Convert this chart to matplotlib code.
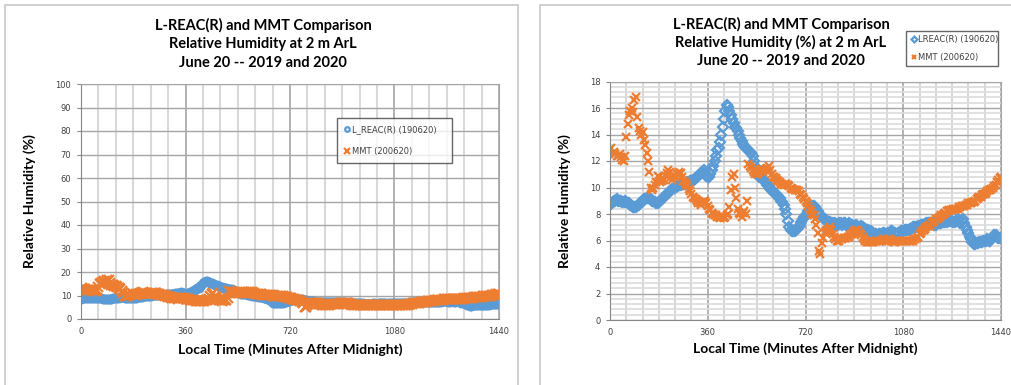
import numpy as np
import matplotlib.pyplot as plt
from matplotlib.patches import Rectangle
from matplotlib.ticker import MultipleLocator

# relative humidity at 2 m, sampled every 5 minutes after midnight
minutes = np.arange(0, 1441, 5)

lreac_rh = [
    8.7, 8.8, 8.9, 9.0, 9.0, 9.1, 9.0, 9.0, 9.0, 8.9, 8.9, 9.0, 8.9, 8.8, 8.8, 8.7, 8.6, 8.5, 8.5, 8.5,
    8.6, 8.7, 8.8, 8.9, 9.0, 9.1, 9.1, 9.2, 9.2, 9.2, 9.1, 9.0, 9.0, 8.9, 8.8, 8.8, 8.9, 9.0, 9.1, 9.2,
    9.3, 9.4, 9.5, 9.6, 9.7, 9.8, 9.9, 10.0, 10.0, 10.1, 10.1, 10.2, 10.2, 10.3, 10.3, 10.3, 10.3, 10.4, 10.4, 10.5,
    10.5, 10.6, 10.6, 10.7, 10.8, 10.9, 11.0, 11.1, 11.2, 11.3, 11.1, 10.9, 10.8, 10.8, 11.0, 11.3, 11.6, 12.0, 12.4, 12.8,
    13.0, 13.4, 14.0, 14.6, 15.2, 15.8, 16.2, 16.1, 15.8, 15.5, 15.2, 14.9, 14.6, 14.5, 14.3, 14.0, 13.7, 13.5, 13.3, 13.1,
    13.0, 12.9, 12.8, 12.7, 12.6, 12.4, 12.0, 11.6, 11.3, 11.0, 10.8, 10.8, 10.7, 10.6, 10.5, 10.4, 10.2, 10.1, 9.9, 9.8,
    9.7, 9.6, 9.5, 9.4, 9.3, 9.2, 9.0, 8.9, 8.7, 8.4, 8.0, 7.5, 7.0, 6.8, 6.7, 6.7, 6.7, 6.8, 6.9, 7.0,
    7.2, 7.4, 7.6, 7.8, 7.9, 8.0, 8.2, 8.4, 8.5, 8.6, 8.6, 8.5, 8.4, 8.2, 8.0, 7.9, 7.8, 7.7, 7.6, 7.5,
    7.5, 7.4, 7.4, 7.3, 7.3, 7.2, 7.3, 7.2, 7.2, 7.3, 7.3, 7.2, 7.3, 7.3, 7.2, 7.2, 7.3, 7.2, 7.2, 7.1,
    7.1, 7.2, 7.1, 7.0, 7.0, 7.1, 7.0, 6.9, 6.9, 6.8, 6.8, 6.7, 6.7, 6.6, 6.6, 6.5, 6.5, 6.4, 6.5, 6.5,
    6.5, 6.6, 6.6, 6.5, 6.5, 6.6, 6.6, 6.7, 6.7, 6.6, 6.6, 6.5, 6.6, 6.6, 6.7, 6.7, 6.7, 6.8, 6.8, 6.8,
    6.8, 6.9, 6.9, 7.0, 7.0, 7.0, 7.0, 7.1, 7.1, 7.2, 7.2, 7.2, 7.2, 7.3, 7.3, 7.3, 7.3, 7.3, 7.3, 7.2,
    7.2, 7.3, 7.3, 7.3, 7.3, 7.4, 7.4, 7.4, 7.4, 7.5, 7.5, 7.5, 7.5, 7.4, 7.4, 7.5, 7.6, 7.4, 7.3, 7.5,
    7.6, 7.3, 7.0, 6.8, 6.6, 6.3, 6.1, 5.9, 5.7, 5.7, 5.8, 5.8, 5.9, 5.9, 5.9, 6.0, 6.0, 6.0, 6.1, 6.0,
    6.0, 6.1, 6.3, 6.4, 6.4, 6.3, 6.2, 6.2, 6.2,
]

mmt_rh = [
    12.9, 13.0, 12.6, 12.7, 12.5, 12.4, 12.4, 12.5, 12.3, 12.1, 12.0, 12.4, 13.8, 14.8, 15.5, 15.8, 16.0, 15.7, 16.6, 16.8,
    15.3, 14.5, 14.3, 14.0, 14.2, 13.6, 13.2, 12.6, 12.0, 11.2, 10.0, 9.8, 10.0, 10.2, 10.4, 10.9, 10.8, 10.4, 10.5, 10.7,
    10.6, 10.9, 11.1, 11.3, 11.2, 10.8, 10.6, 10.8, 10.9, 11.0, 11.0, 11.2, 11.1, 10.8, 10.5, 10.4, 10.3, 10.1, 9.9, 9.7,
    9.5, 9.3, 9.2, 9.1, 9.0, 8.8, 8.8, 8.7, 8.9, 9.0, 9.0, 8.8, 8.6, 8.4, 8.3, 8.1, 8.0, 7.9, 7.9, 7.8,
    7.8, 7.7, 7.8, 7.8, 7.7, 7.8, 7.9, 8.0, 8.5, 9.8, 10.8, 11.0, 10.0, 9.2, 8.4, 8.1, 8.0, 7.8, 8.1, 8.2,
    8.0, 9.0, 11.8, 11.6, 11.5, 11.3, 11.2, 11.0, 11.0, 11.1, 11.2, 11.3, 11.4, 11.2, 11.3, 11.4, 11.5, 11.6, 11.3, 11.0,
    10.8, 10.8, 10.7, 10.6, 10.5, 10.4, 10.3, 10.3, 10.2, 10.3, 10.3, 10.2, 10.1, 10.0, 9.9, 9.9, 9.8, 9.8, 9.8, 9.7,
    9.5, 9.4, 9.3, 9.1, 9.0, 8.8, 8.6, 8.4, 8.2, 8.0, 7.9, 7.6, 7.2, 6.6, 5.2, 5.0, 5.8, 6.2, 6.6, 6.7,
    6.8, 6.9, 7.0, 6.8, 6.5, 6.3, 6.1, 6.0, 6.0, 6.0, 6.1, 6.1, 6.2, 6.2, 6.2, 6.3, 6.3, 6.4, 6.5, 6.6,
    6.7, 6.8, 6.8, 6.7, 6.6, 6.4, 6.3, 6.1, 6.0, 5.9, 5.9, 5.9, 5.9, 5.9, 5.9, 6.0, 6.0, 6.0, 6.0, 6.0,
    6.0, 6.1, 6.1, 6.0, 6.0, 6.1, 6.1, 6.0, 6.0, 5.9, 5.9, 6.0, 6.0, 6.0, 6.0, 6.0, 6.0, 6.0, 6.0, 6.0,
    6.0, 6.0, 6.0, 6.0, 6.1, 6.1, 6.2, 6.3, 6.5, 6.6, 6.7, 6.8, 6.9, 7.0, 7.1, 7.1, 7.2, 7.3, 7.4, 7.5,
    7.6, 7.6, 7.7, 7.8, 7.9, 7.9, 8.0, 8.1, 8.2, 8.2, 8.3, 8.3, 8.3, 8.4, 8.4, 8.4, 8.4, 8.5, 8.5, 8.6,
    8.6, 8.6, 8.7, 8.7, 8.8, 8.8, 8.8, 8.9, 8.9, 9.0, 9.1, 9.2, 9.3, 9.3, 9.4, 9.5, 9.5, 9.6, 9.7, 9.8,
    9.8, 9.9, 10.0, 10.1, 10.2, 10.4, 10.6, 10.7, 10.8,
]

x_ticks = [0, 360, 720, 1080, 1440]

left_title = ["L-REAC(R) and MMT Comparison",
              "Relative Humidity at 2 m ArL",
              "June 20 -- 2019 and 2020"]
right_title = ["L-REAC(R) and MMT Comparison",
               "Relative Humidity (%) at 2 m ArL",
               "June 20 -- 2019 and 2020"]

BLUE = "#5b9bd5"
ORANGE = "#ed7d31"
FONT = "Lato"
W, H = 1011, 385


def draw_panel(ax, ymax, ymajor, yminor, blue_label, blue_marker, msize):
    ax.plot(minutes, lreac_rh, linestyle="none", marker=blue_marker,
            markersize=msize, markerfacecolor="none", markeredgecolor=BLUE,
            markeredgewidth=1.6, label=blue_label)
    ax.plot(minutes, mmt_rh, linestyle="none", marker="x", markersize=msize + 1,
            color=ORANGE, markeredgewidth=1.6, label="MMT (200620)")

    ax.set_xlim(0, 1440)
    ax.set_ylim(0, ymax)
    ax.set_xticks(x_ticks)
    ax.xaxis.set_minor_locator(MultipleLocator(60))
    ax.yaxis.set_major_locator(MultipleLocator(ymajor))
    if yminor:
        ax.yaxis.set_minor_locator(MultipleLocator(yminor))
        ax.grid(True, which="minor", axis="y", color="#dcdcdc", linewidth=1.2)
    ax.grid(True, which="minor", axis="x", color="#d9d9d9", linewidth=1.5)
    ax.grid(True, which="major", axis="y", color="#a6a6a6", linewidth=1.0)
    ax.grid(True, which="major", axis="x", color="#a6a6a6", linewidth=1.2)
    ax.set_axisbelow(True)

    for side in ["top", "right"]:
        ax.spines[side].set_color("#a6a6a6")
    for side in ["left", "bottom"]:
        ax.spines[side].set_color("#868686")
    ax.tick_params(which="major", length=3, color="#868686", labelsize=6,
                   labelcolor="#404040", pad=4)
    ax.tick_params(which="minor", length=0)
    ax.tick_params(axis="x", length=0, pad=6)

    ax.set_xlabel("Local Time (Minutes After Midnight)", fontsize=10,
                  fontweight="bold", family=FONT, va="center")
    ax.set_ylabel("Relative Humidity (%)", fontsize=10, fontweight="bold",
                  family=FONT, va="center")


def add_legend(ax, x0, top, width, pad, spacing):
    leg = ax.legend(loc="upper left", bbox_to_anchor=(x0, 0, width, top),
                    mode="expand", fontsize=6, frameon=True, fancybox=False,
                    edgecolor="#404040", borderpad=pad, labelspacing=spacing,
                    handlelength=0.8, handletextpad=0.1, borderaxespad=0,
                    markerscale=0.6)
    leg.get_frame().set_linewidth(1.0)
    for txt in leg.get_texts():
        txt.set_color("#404040")


def add_title(lines, xc, ys):
    for line, y in zip(lines, ys):
        fig.text(xc / W, 1 - y / H, line, ha="center", va="center",
                 fontsize=10.5, fontweight="bold", family=FONT)


fig = plt.figure(figsize=(10.11, 3.85), dpi=100)

# chart borders
fig.patches.append(Rectangle((5 / W, -0.05), 513 / W, 1.037, transform=fig.transFigure,
                             fill=False, edgecolor="#c8c8c8", linewidth=1.2))
fig.patches.append(Rectangle((540 / W, -0.05), 0.48, 1.038, transform=fig.transFigure,
                             fill=False, edgecolor="#c8c8c8", linewidth=1.2))

ax1 = fig.add_axes([81 / W, 66 / H, 418 / W, 235 / H])
draw_panel(ax1, 100, 10, None, "L_REAC(R) (190620)", "o", 5.5)
ax1.yaxis.set_label_coords((30 - 81) / 418, 0.5)
ax1.xaxis.set_label_coords(0.5, (319 - 350) / 235)
add_legend(ax1, (337 - 81) / 418, (319 - 118) / 235, 115 / 418, 0.85, 1.5)
add_title(left_title, 263, [25, 44, 63])

ax2 = fig.add_axes([610 / W, 65 / H, 391 / W, 238.5 / H])
draw_panel(ax2, 18, 2, 0.4, "LREAC(R) (190620)", "D", 5.0)
ax2.yaxis.set_label_coords((565 - 610) / 391, 0.5)
ax2.xaxis.set_label_coords(0.5, (320 - 349) / 238.5)
add_legend(ax2, (906 - 610) / 391, (320 - 31) / 238.5, 92 / 391, 0.52, 1.05)
add_title(right_title, 781, [24, 42, 61])

fig.savefig("out.png", dpi=100)
